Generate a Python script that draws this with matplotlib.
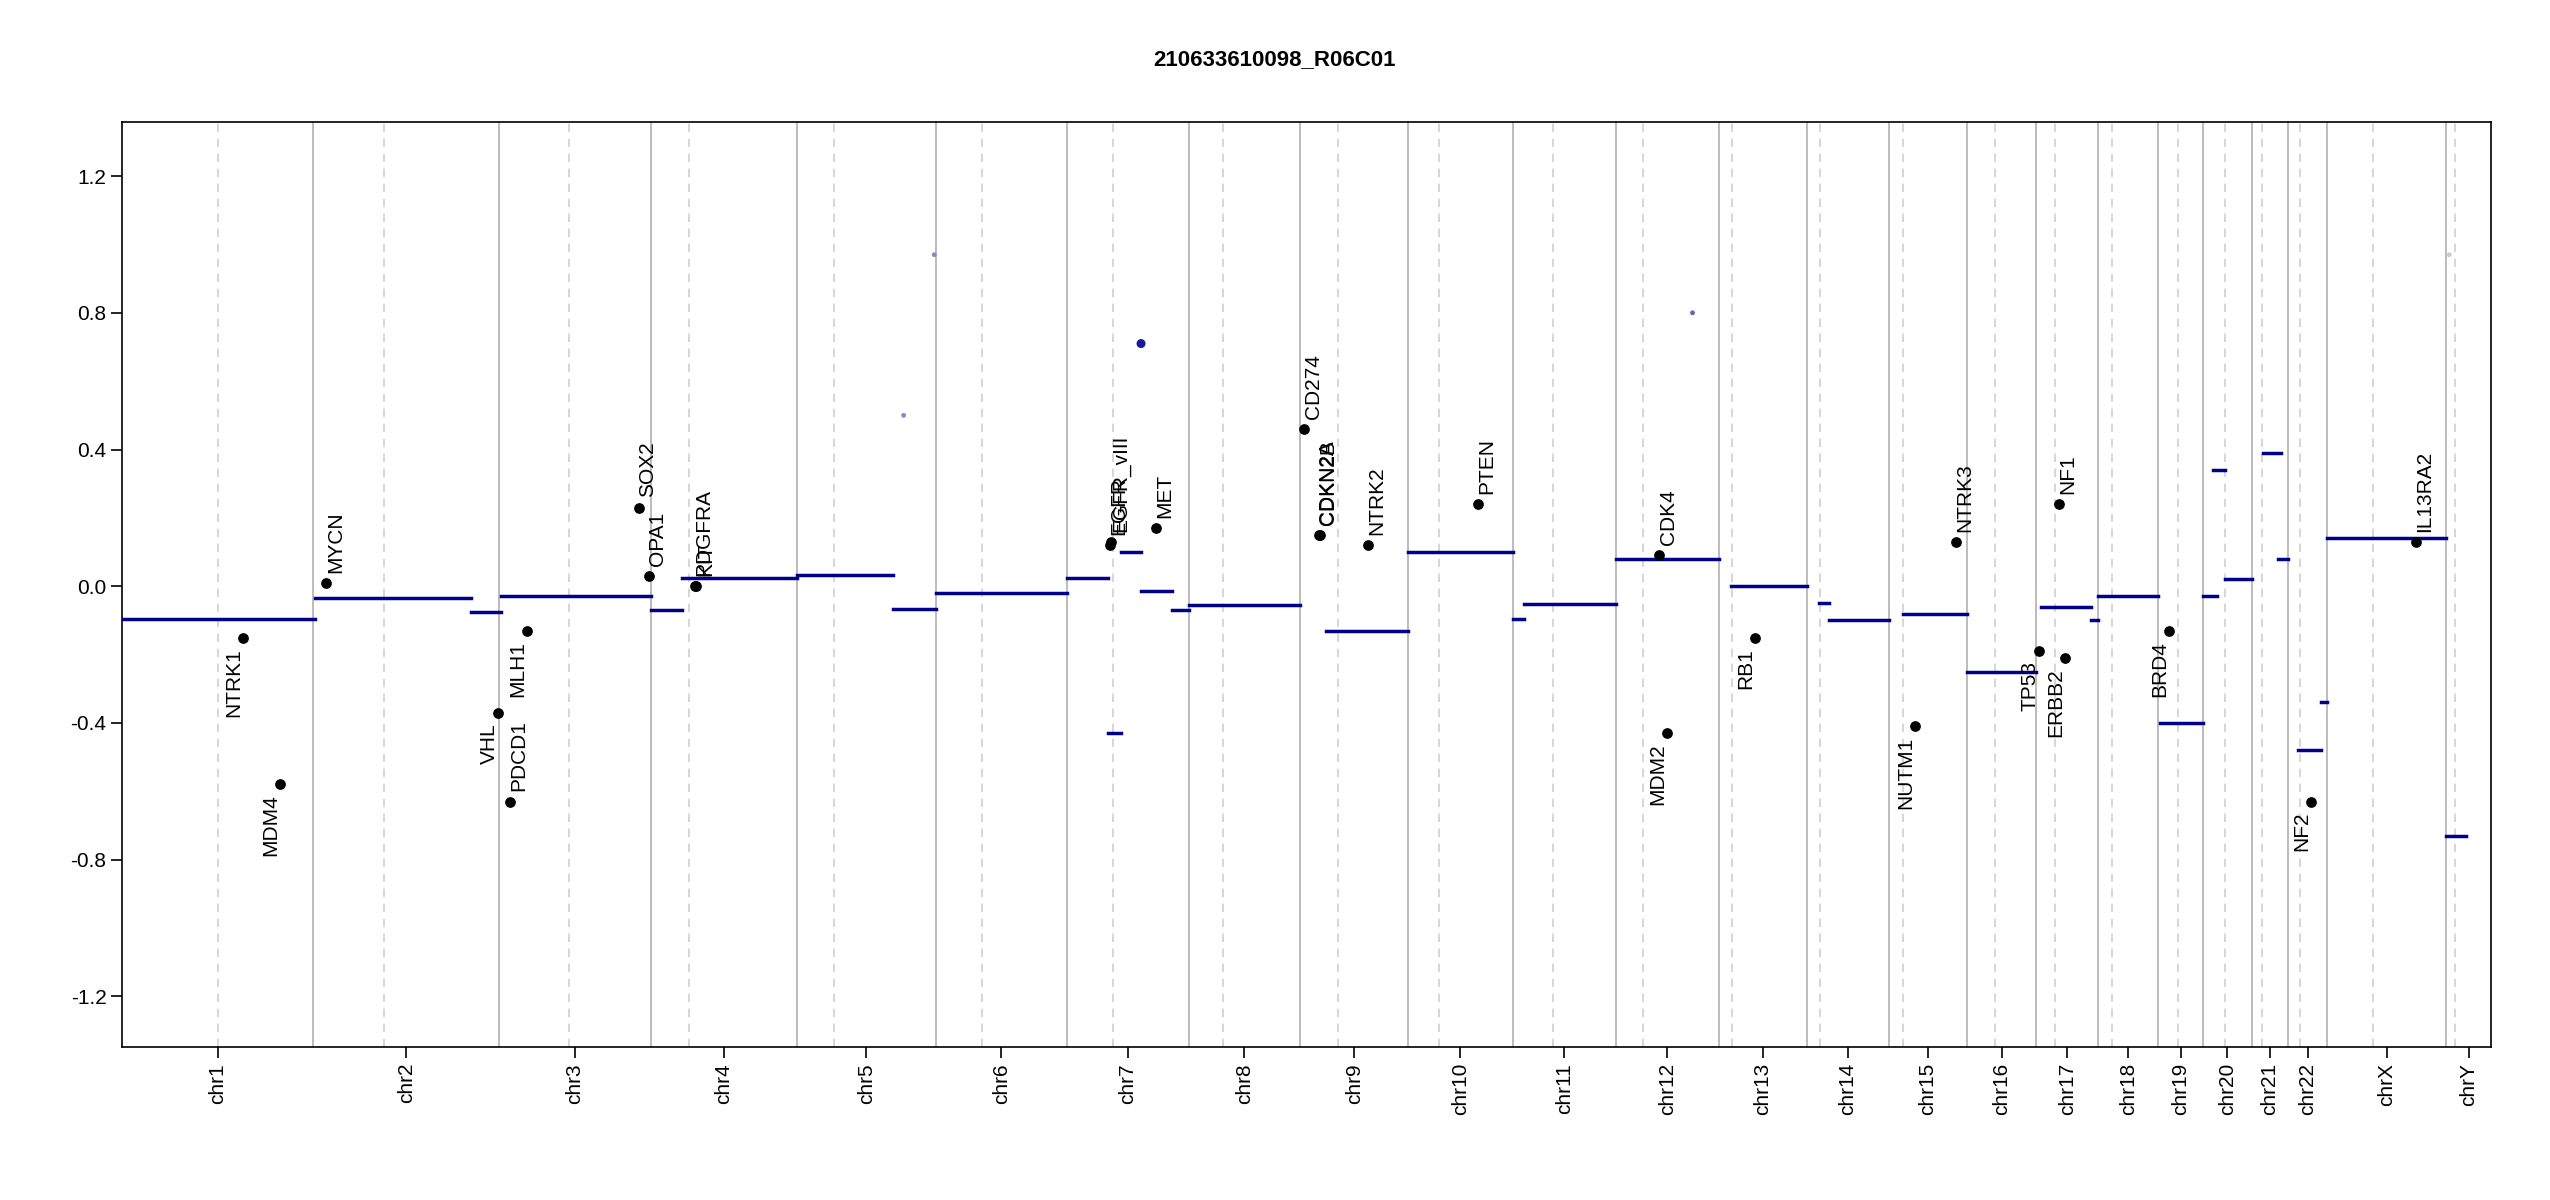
import matplotlib
matplotlib.use("Agg")
import matplotlib.pyplot as plt
import numpy as np

plt.rcParams['font.family'] = ['Liberation Sans', 'DejaVu Sans']

# chromosome lengths and centromeres (Mb)
chroms = ['chr1', 'chr2', 'chr3', 'chr4', 'chr5', 'chr6', 'chr7', 'chr8', 'chr9', 'chr10',
          'chr11', 'chr12', 'chr13', 'chr14', 'chr15', 'chr16', 'chr17', 'chr18', 'chr19',
          'chr20', 'chr21', 'chr22', 'chrX', 'chrY']
lengths = [249, 243, 198, 191, 181, 171, 159, 146, 141, 136, 135, 134, 115, 107, 103,
           90, 81, 78, 59, 63, 48, 51, 155, 59]
centro = [125, 93, 91, 50, 48, 60, 60, 45, 49, 40, 53, 35, 17, 17, 19, 36, 24, 18, 26,
          28, 13, 15, 60, 12]

# segments (global start Mb, end Mb, log2 ratio)
seg_start = [0, 251, 455, 494, 690, 730, 881, 1006, 1062, 1233, 1287, 1304, 1330, 1370,
             1392, 1572, 1679, 1815, 1830, 1950, 2100, 2215, 2228, 2325, 2409, 2505, 2570,
             2580, 2660, 2717, 2730, 2745, 2795, 2815, 2840, 2870, 2879, 3034]
seg_end = [251, 455, 494, 690, 730, 881, 1006, 1062, 1233, 1287, 1304, 1330, 1370, 1392,
           1538, 1679, 1815, 1830, 1950, 2084, 2199, 2228, 2306, 2409, 2499, 2570, 2580,
           2658, 2717, 2735, 2745, 2780, 2818, 2828, 2870, 2879, 3034, 3060]
seg_val = [-0.095, -0.033, -0.076, -0.029, -0.07, 0.024, 0.033, -0.067, -0.02, 0.024,
           -0.43, 0.10, -0.015, -0.07, -0.055, -0.13, 0.10, -0.095, -0.052, 0.08, 0.0,
           -0.05, -0.10, -0.08, -0.25, -0.062, -0.10, -0.03, -0.40, -0.03, 0.34, 0.02,
           0.39, 0.08, -0.48, -0.34, 0.14, -0.73]

# genes: name, position (Mb), value, label below?
gene_name = ['NTRK1', 'MDM4', 'MYCN', 'VHL', 'PDCD1', 'MLH1', 'SOX2', 'OPA1', 'PDGFRA', 'KIT',
             'EGFR', 'EGFR_vIII', 'MET', 'CD274', 'CDKN2A', 'CDKN2B', 'NTRK2', 'PTEN', 'CDK4',
             'MDM2', 'RB1', 'NUTM1', 'NTRK3', 'TP53', 'NF1', 'ERBB2', 'BRD4', 'NF2', 'IL13RA2']
gene_pos = [157, 206, 266, 491, 506, 528, 674, 687, 747, 749, 1289, 1291, 1349, 1543, 1562,
            1563, 1626, 1770, 2006, 2017, 2132, 2340, 2394, 2502, 2528, 2536, 2672, 2858, 2994]
gene_val = [-0.15, -0.58, 0.01, -0.37, -0.63, -0.13, 0.23, 0.03, 0.0, 0.0, 0.12, 0.13, 0.17,
            0.46, 0.15, 0.15, 0.12, 0.24, 0.09, -0.43, -0.15, -0.41, 0.13, -0.19, 0.24, -0.21,
            -0.13, -0.63, 0.13]
gene_below = [True, True, False, True, False, True, False, False, False, False, False, False,
              False, False, False, False, False, False, False, True, True, True, False, True,
              False, True, True, True, False]

# a few isolated probe values visible in the picture
pt_pos = [1330, 1060, 1020, 2050, 3038]
pt_val = [0.71, 0.97, 0.50, 0.80, 0.97]

starts = np.concatenate([[0], np.cumsum(lengths)[:-1]])
ends = np.cumsum(lengths)

fig = plt.figure(figsize=(25.5, 12), dpi=100)
ax = fig.add_axes([0.048, 0.1275, 0.929, 0.7705])

for i in range(len(chroms)):
    if i < len(chroms) - 1:
        ax.axvline(ends[i], color='#b0b0b0', lw=1.2)
    ax.axvline(starts[i] + centro[i], color='#d0d0d0', lw=1.2, ls=(0, (5, 4)))

ax.scatter(pt_pos, pt_val, s=[30, 6, 6, 6, 6], color=['#1a1aa0', '#8888cc', '#8888cc', '#6666bb', '#cccccc'], zorder=2)

for s, e, v in zip(seg_start, seg_end, seg_val):
    ax.plot([s, e], [v, v], color='#00008b', lw=2.5, zorder=3)

ax.scatter(gene_pos, gene_val, s=45, color='black', zorder=4)
for n, p, v, b in zip(gene_name, gene_pos, gene_val, gene_below):
    if b:
        ax.text(p - 12, v - 0.03, n, rotation=90, ha='center', va='top', fontsize=15, zorder=5)
    else:
        ax.text(p + 12, v + 0.03, n, rotation=90, ha='center', va='bottom', fontsize=15, zorder=5)

ax.set_xlim(0, ends[-1])
ax.set_ylim(-1.348, 1.357)
ax.set_yticks([-1.2, -0.8, -0.4, 0.0, 0.4, 0.8, 1.2])
ax.set_yticklabels(['-1.2', '-0.8', '-0.4', '0.0', '0.4', '0.8', '1.2'], fontsize=15)
ax.set_xticks(starts + np.array(lengths) / 2)
ax.set_xticklabels(chroms, rotation=90, fontsize=15)
ax.tick_params(axis='both', direction='out', length=8, width=1.2)
for sp in ax.spines.values():
    sp.set_linewidth(1.2)

fig.text(0.5, 0.95, '210633610098_R06C01', ha='center', va='center', fontsize=16, fontweight='bold')

fig.savefig('out.png', dpi=100)
